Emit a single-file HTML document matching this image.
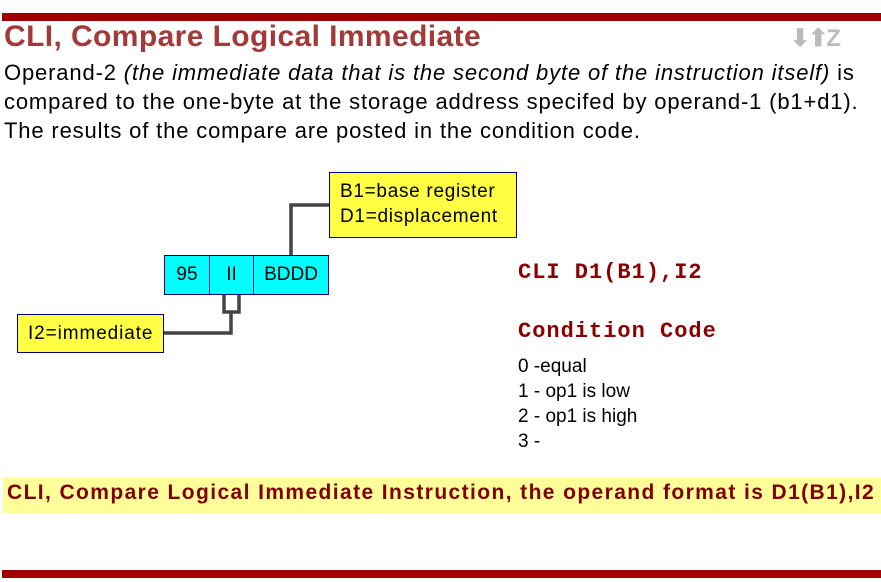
<!DOCTYPE html>
<html><head><style>
body{margin:0;width:881px;height:582px;position:relative;background:#fff;font-family:"Liberation Sans",Arial,sans-serif;overflow:hidden}
.a{position:absolute;white-space:nowrap}
.bar{position:absolute;left:2px;right:0;height:8px;background:#a00000}
.y{position:absolute;background:#ffff44;border:1px solid #000080;box-sizing:border-box;font-size:19px;color:#000;letter-spacing:0.7px}
.c{position:absolute;background:#00ffff;border:1px solid #000080;box-sizing:border-box;font-size:19px;text-align:center;line-height:38px;top:255px;height:40px}
.mono{font-family:"Liberation Mono",monospace;font-weight:bold;color:#8b0000;font-size:22px;letter-spacing:1px}
</style></head><body>
<div class="bar" style="top:13px"></div>
<div class="a" style="left:4px;top:20px;font-size:30px;font-weight:bold;color:#a33a3a;letter-spacing:0.4px">CLI, Compare Logical Immediate</div>
<div class="a" style="left:790px;top:24px;font-size:24px;color:#bbb;font-weight:bold;letter-spacing:-2px">⬇⬆Z</div>
<div class="a" style="left:4px;top:58px;font-size:22px;line-height:29px;color:#000;letter-spacing:0.85px">Operand-2 <i>(the immediate data that is the second byte of the instruction itself)</i> is<br>compared to the one-byte at the storage address specifed by operand-1 (b1+d1).<br>The results of the compare are posted in the condition code.</div>
<svg class="a" style="left:0;top:0" width="881" height="582">
<g fill="none" stroke="#444" stroke-width="3.5">
<polyline points="291,256 291,205 330,205"/>
<polyline points="224,294 224,312 239,312 239,294"/>
<polyline points="231,312 231,333 163,333"/>
</g></svg>
<div class="y" style="left:329px;top:172px;width:188px;height:66px;padding:6px 0 0 10px;line-height:25px">B1=base register<br>D1=displacement</div>
<div class="y" style="left:17px;top:314px;width:147px;height:39px;padding-left:10px;line-height:37px;letter-spacing:0.9px">I2=immediate</div>
<div class="c" style="left:164px;width:46px">95</div>
<div class="c" style="left:209px;width:45px">II</div>
<div class="c" style="left:253px;width:76px">BDDD</div>
<div class="a mono" style="left:518px;top:260px">CLI D1(B1),I2</div>
<div class="a mono" style="left:518px;top:319px">Condition Code</div>
<div class="a" style="left:518px;top:354px;font-size:19px;line-height:25px">0 -equal<br>1 - op1 is low<br>2 - op1 is high<br>3 -</div>
<div class="a" style="left:3px;top:478px;width:878px;height:35px;background:#ffff99"></div>
<div class="a" style="left:7px;top:481px;font-size:21px;font-weight:bold;color:#800000;letter-spacing:1.4px">CLI, Compare Logical Immediate Instruction, the operand format is D1(B1),I2</div>
<div class="bar" style="top:570px"></div>
</body></html>
